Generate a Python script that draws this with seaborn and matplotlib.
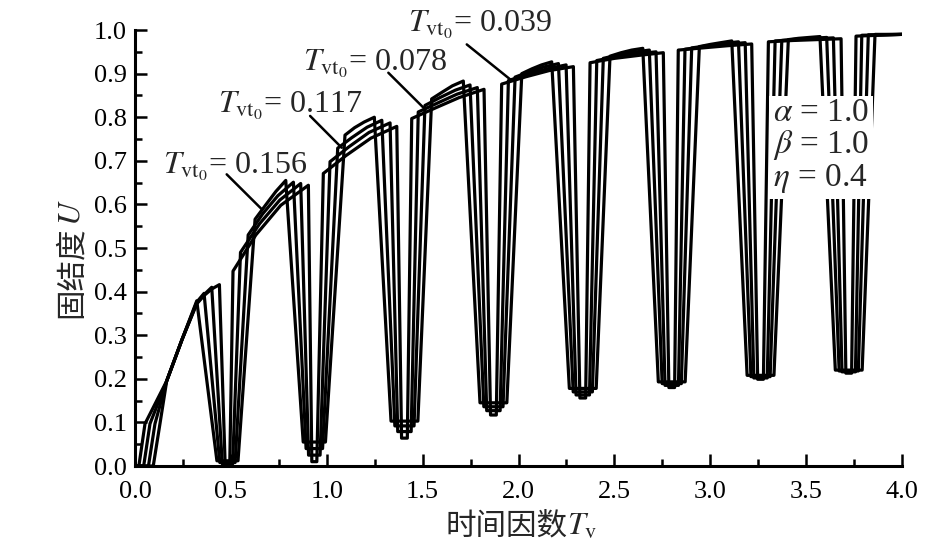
import matplotlib
matplotlib.use("Agg")
import matplotlib.pyplot as plt
import seaborn as sns
import pandas as pd
from matplotlib.ticker import MultipleLocator, FormatStrFormatter

sns.set_theme(style="white")
plt.rcParams['font.family'] = ['Liberation Serif', 'Noto Sans CJK SC', 'DejaVu Sans']
plt.rcParams['mathtext.fontset'] = 'stix'

# ---- data (curve index 0..3 ; 0 = Tvt0 0.156 ... 3 = Tvt0 0.039)
curve_names = ["0.156", "0.117", "0.078", "0.039"]

# initial rising branch (before the first peak)
init_x = [[0.0, 0.095, 0.130, 0.165, 0.245],
          [0.0, 0.070, 0.104, 0.165, 0.245, 0.322],
          [0.0, 0.045, 0.078, 0.165, 0.245, 0.322, 0.360],
          [0.0, 0.020, 0.052, 0.165, 0.245, 0.322, 0.360, 0.400]]
init_u = [[0.0, 0.000, 0.097, 0.195, 0.290],
          [0.0, 0.000, 0.097, 0.195, 0.290, 0.376],
          [0.0, 0.000, 0.097, 0.195, 0.290, 0.374, 0.393],
          [0.0, 0.000, 0.097, 0.195, 0.290, 0.372, 0.391, 0.406]]

# peaks (start of each drop), 8 cycles
peak_x = [[0.322, 0.786, 1.248, 1.712, 2.173, 2.648, 3.112, 3.572],
          [0.360, 0.826, 1.287, 1.747, 2.208, 2.682, 3.147, 3.607],
          [0.400, 0.864, 1.330, 1.785, 2.248, 2.717, 3.182, 3.642],
          [0.440, 0.904, 1.365, 1.820, 2.286, 2.755, 3.216, 3.682]]
peak_u = [[0.379, 0.655, 0.800, 0.883, 0.927, 0.958, 0.975, 0.985],
          [0.396, 0.651, 0.793, 0.874, 0.923, 0.954, 0.973, 0.983],
          [0.410, 0.648, 0.787, 0.868, 0.920, 0.950, 0.971, 0.982],
          [0.416, 0.644, 0.779, 0.864, 0.916, 0.948, 0.968, 0.980]]

# troughs: left / right end of the bottom and its level
trough_l = [[0.427, 0.877, 1.335, 1.799, 2.265, 2.729, 3.192, 3.652],
            [0.442, 0.892, 1.355, 1.819, 2.285, 2.749, 3.212, 3.672],
            [0.455, 0.905, 1.370, 1.834, 2.300, 2.764, 3.227, 3.687],
            [0.470, 0.922, 1.390, 1.854, 2.320, 2.784, 3.247, 3.707]]
trough_r = [[0.537, 0.993, 1.475, 1.939, 2.405, 2.869, 3.332, 3.792],
            [0.522, 0.978, 1.455, 1.919, 2.385, 2.849, 3.312, 3.772],
            [0.509, 0.965, 1.440, 1.904, 2.370, 2.834, 3.297, 3.757],
            [0.494, 0.948, 1.420, 1.884, 2.350, 2.814, 3.277, 3.737]]
trough_u = [[0.012, 0.055, 0.103, 0.145, 0.178, 0.193, 0.208, 0.220],
            [0.008, 0.040, 0.092, 0.136, 0.170, 0.189, 0.205, 0.218],
            [0.005, 0.025, 0.079, 0.127, 0.163, 0.185, 0.202, 0.216],
            [0.003, 0.010, 0.064, 0.117, 0.156, 0.180, 0.199, 0.213]]

# top of each steep rise (start of the next plateau)
rise_x = [[0.626, 1.095, 1.547, 2.017, 2.477, 2.943, 3.407, 3.859],
          [0.590, 1.057, 1.512, 1.982, 2.442, 2.903, 3.373, 3.824],
          [0.550, 1.017, 1.477, 1.947, 2.408, 2.868, 3.338, 3.790],
          [0.511, 0.982, 1.443, 1.912, 2.373, 2.833, 3.303, 3.760]]
rise_u = [[0.566, 0.759, 0.842, 0.900, 0.940, 0.962, 0.978, 0.990],
          [0.530, 0.729, 0.827, 0.892, 0.935, 0.959, 0.976, 0.989],
          [0.490, 0.698, 0.812, 0.884, 0.930, 0.956, 0.975, 0.988],
          [0.447, 0.671, 0.797, 0.876, 0.925, 0.954, 0.973, 0.986]]

# two points along each plateau (plateaus 2..8)
mid1_x = [[0.680, 1.145, 1.600, 2.070, 2.535, 3.000, 3.460],
          [0.665, 1.130, 1.590, 2.060, 2.520, 2.985, 3.450],
          [0.650, 1.115, 1.580, 2.050, 2.510, 2.970, 3.440],
          [0.630, 1.100, 1.570, 2.040, 2.500, 2.960, 3.430]]
mid1_u = [[0.598, 0.776, 0.857, 0.911, 0.948, 0.967, 0.981],
          [0.578, 0.753, 0.845, 0.905, 0.943, 0.964, 0.979],
          [0.556, 0.732, 0.833, 0.899, 0.939, 0.962, 0.978],
          [0.530, 0.712, 0.822, 0.893, 0.935, 0.959, 0.976]]
mid2_x = [[0.735, 1.195, 1.655, 2.120, 2.590, 3.055, 3.515],
          [0.745, 1.210, 1.670, 2.130, 2.600, 3.065, 3.530],
          [0.755, 1.220, 1.680, 2.150, 2.610, 3.075, 3.540],
          [0.760, 1.230, 1.690, 2.160, 2.630, 3.090, 3.555]]
mid2_u = [[0.630, 0.789, 0.872, 0.920, 0.954, 0.971, 0.983],
          [0.620, 0.777, 0.862, 0.915, 0.949, 0.969, 0.981],
          [0.610, 0.765, 0.853, 0.911, 0.945, 0.967, 0.980],
          [0.598, 0.752, 0.845, 0.907, 0.942, 0.964, 0.978]]

end_x = [4.0, 4.0, 4.0, 4.0]
end_u = [0.990, 0.990, 0.990, 0.990]

# parameter box
param_symbols = [r'\alpha', r'\beta', r'\eta']
param_values = ["1.0", "1.0", "0.4"]

# ---- assemble long table
rows = []
for k, name in enumerate(curve_names):
    xs = list(init_x[k]); us = list(init_u[k])
    for n in range(len(peak_x[k])):
        xs += [peak_x[k][n], trough_l[k][n], trough_r[k][n], rise_x[k][n]]
        us += [peak_u[k][n], trough_u[k][n], trough_u[k][n], rise_u[k][n]]
        if n < len(mid1_x[k]):
            xs += [mid1_x[k][n], mid2_x[k][n]]
            us += [mid1_u[k][n], mid2_u[k][n]]
    xs.append(end_x[k]); us.append(end_u[k])
    for i, (a, b) in enumerate(zip(xs, us)):
        rows.append({"Tv": a, "U": b, "curve": name, "order": i})
df = pd.DataFrame(rows)

fig = plt.figure(figsize=(9.41, 5.54), dpi=100)
ax = fig.add_axes([0.1435, 0.1588, 0.9586 - 0.1435, 0.9458 - 0.1588])
sns.lineplot(data=df, x="Tv", y="U", units="curve", estimator=None, sort=False,
             color="black", linewidth=2.3, ax=ax, legend=False)

ax.set_xlim(0, 4.0)
ax.set_ylim(0, 1.0)
ax.xaxis.set_major_locator(MultipleLocator(0.5))
ax.xaxis.set_minor_locator(MultipleLocator(0.25))
ax.yaxis.set_major_locator(MultipleLocator(0.1))
ax.yaxis.set_minor_locator(MultipleLocator(0.05))
ax.xaxis.set_major_formatter(FormatStrFormatter('%.1f'))
ax.yaxis.set_major_formatter(FormatStrFormatter('%.1f'))
ax.tick_params(which='both', direction='in', width=1.8, colors='black',
               labelsize=19, bottom=True, left=True, top=False, right=False)
ax.tick_params(which='major', length=8.5)
ax.tick_params(which='minor', length=5)
ax.tick_params(axis='x', which='major', pad=11)
ax.tick_params(axis='y', which='major', pad=6)
for s in ['top', 'right']:
    ax.spines[s].set_visible(False)
for s in ['left', 'bottom']:
    ax.spines[s].set_linewidth(2.2)
    ax.spines[s].set_color('black')
ax.set_xlabel('')
ax.set_ylabel('')

cjk = ['Noto Sans CJK SC', 'DejaVu Sans']
# x label: Chinese part + italic T with subscript v
fig.text(567 / 941, 1 - 535 / 554, '时间因数', fontsize=22, family=cjk,
         ha='right', va='baseline')
fig.text(567 / 941, 1 - 535 / 554, r'$T_\mathrm{v}$', fontsize=23,
         ha='left', va='baseline')
# y label: rotated Chinese part + italic U
fig.text(80 / 941, 1 - 226 / 554, '固结度', fontsize=22, family=cjk, rotation=90,
         rotation_mode='anchor', ha='right', va='baseline')
fig.text(80 / 941, 1 - 226 / 554, r'$U$', fontsize=23, rotation=90,
         rotation_mode='anchor', ha='left', va='baseline')

# annotations
ann_text_x = [0.146, 0.433, 0.876, 1.424]
ann_text_u = [0.687, 0.827, 0.923, 1.011]
ann_line_x0 = [0.478, 0.913, 1.321, 1.730]
ann_line_u0 = [0.669, 0.803, 0.902, 0.967]
ann_line_x1 = [0.661, 1.078, 1.504, 1.956]
ann_line_u1 = [0.589, 0.730, 0.822, 0.887]
for name, tx, tu, x0, u0, x1, u1 in zip(curve_names, ann_text_x, ann_text_u,
                                          ann_line_x0, ann_line_u0, ann_line_x1, ann_line_u1):
    ax.text(tx, tu, r'$T_{\mathrm{vt}_0}$= ' + name, fontsize=23, ha='left', va='center',
            clip_on=False, zorder=6)
    ax.plot([x0, x1], [u0, u1], color='black', linewidth=1.8, zorder=6, clip_on=False)

box_text = '\n'.join('$%s$ = %s' % (s, v) for s, v in zip(param_symbols, param_values))
ax.text(3.327, 0.733, box_text, fontsize=24,
        ha='left', va='center', linespacing=1.0, zorder=7,
        bbox=dict(facecolor='white', edgecolor='none', pad=3))

fig.savefig("out.png", dpi=100)
